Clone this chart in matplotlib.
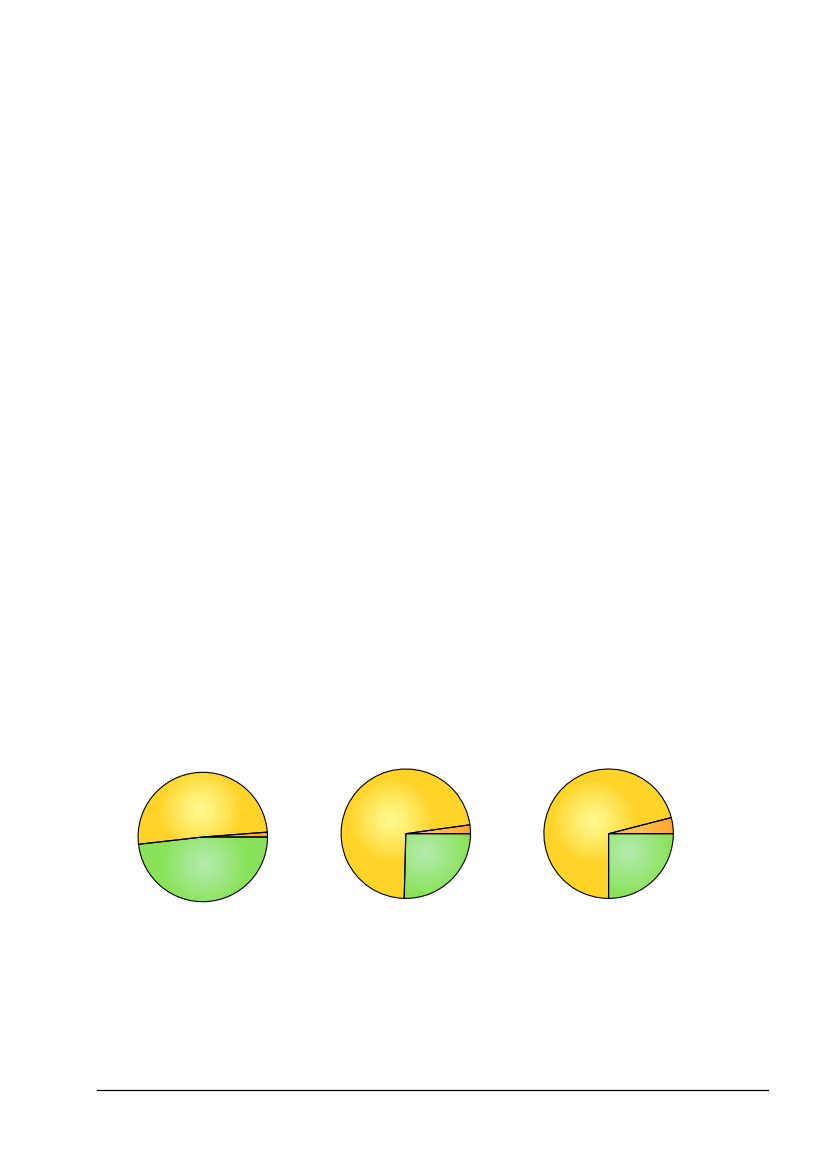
import numpy as np
import matplotlib
matplotlib.use('Agg')
import matplotlib.pyplot as plt
from matplotlib.lines import Line2D

# slice shares (percent) of each pie, counter-clockwise from 3 o'clock
orange = [1.2, 2.2, 4.0]
yellow = [50.6, 72.4, 71.0]
green = [48.2, 25.4, 25.0]

# pie centres in page pixels
centers = [(202.8, 837.0), (405.8, 833.7), (608.6, 833.7)]
radius_px = 64.7

# (edge colour, centre colour) for the radial shading
shades = [((1.00, 0.62, 0.16), (1.00, 0.76, 0.32)),
          ((1.00, 0.83, 0.16), (1.00, 0.98, 0.56)),
          ((0.54, 0.89, 0.35), (0.70, 0.92, 0.67))]

W, H = 827, 1169
fig = plt.figure(figsize=(W / 100, H / 100), dpi=100)
fig.patch.set_facecolor('white')

pad = 1.06
xs = np.linspace(-pad, pad, 300)
gx, gy = np.meshgrid(xs, xs[::-1])

for i, (cx, cy) in enumerate(centers):
    size = 2 * pad * radius_px
    ax = fig.add_axes([(cx - size / 2) / W, (H - cy - size / 2) / H, size / W, size / H])
    vals = [orange[i], yellow[i], green[i]]
    wedges, _ = ax.pie(vals, startangle=0, counterclock=True, radius=1,
                       wedgeprops=dict(edgecolor='black', linewidth=0.8))
    for w, (edge, mid) in zip(wedges, shades):
        ang = np.deg2rad((w.theta1 + w.theta2) / 2)
        dist = 0.42 if (w.theta2 - w.theta1) < 200 else 0.3
        hx, hy = dist * np.cos(ang), dist * np.sin(ang)
        d = np.sqrt((gx - hx) ** 2 + (gy - hy) ** 2)
        t = np.clip(d / 0.65, 0, 1) ** 1.2
        img = np.zeros(gx.shape + (3,))
        for c in range(3):
            img[..., c] = mid[c] + (edge[c] - mid[c]) * t
        im = ax.imshow(img, extent=[-pad, pad, -pad, pad], zorder=0.5, interpolation='bilinear')
        im.set_clip_path(w)
        w.set_facecolor('none')
        w.set_zorder(2)
    ax.set_xlim(-pad, pad)
    ax.set_ylim(-pad, pad)
    ax.set_aspect('equal')
    ax.axis('off')

fig.add_artist(Line2D([97 / W, 768 / W], [1 - 1090 / H, 1 - 1090 / H],
                      color='black', linewidth=0.9))

fig.savefig('out.png', dpi=100, facecolor='white')
